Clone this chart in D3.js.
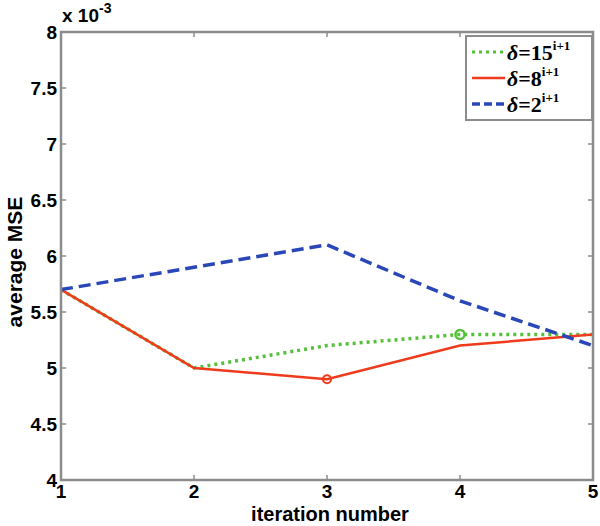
<!DOCTYPE html>
<html>
<head>
<meta charset="utf-8">
<script src="https://cdn.jsdelivr.net/npm/d3@7"></script>
<style>
  body { margin: 0; background: #fff; }
  text { font-family: "Liberation Sans", Arial, sans-serif; font-weight: bold; }
</style>
</head>
<body>
<div id="chart"></div>
<script>
const iterations = [1, 2, 3, 4, 5]
const mse15 = [5.7, 5.0, 5.2, 5.3, 5.3]
const mse8 = [5.7, 5.0, 4.9, 5.2, 5.3]
const mse2 = [5.7, 5.9, 6.1, 5.6, 5.2]
const yTicks = [4, 4.5, 5, 5.5, 6, 6.5, 7, 7.5, 8]
const legendNames = ["15", "8", "2"]

const width = 600, height = 526
const margin = { left: 61, right: 7, top: 32, bottom: 46 }

const svg = d3.select("#chart").append("svg")
    .attr("width", width)
    .attr("height", height)

const x = d3.scaleLinear().domain([1, 5]).range([margin.left, width - margin.right])
const y = d3.scaleLinear().domain([4, 8]).range([height - margin.bottom, margin.top])

const axisColor = "#8c8c8c"

// ticks on all four sides, pointing inward
const ax = svg.append("g")
ax.selectAll(".xt").data(iterations).enter().append("line")
    .attr("x1", d => x(d)).attr("x2", d => x(d))
    .attr("y1", y(4)).attr("y2", y(4) - 5)
    .attr("stroke", axisColor).attr("stroke-width", 1.5)
ax.selectAll(".xt2").data(iterations).enter().append("line")
    .attr("x1", d => x(d)).attr("x2", d => x(d))
    .attr("y1", y(8)).attr("y2", y(8) + 5)
    .attr("stroke", axisColor).attr("stroke-width", 1.5)
ax.selectAll(".yt").data(yTicks).enter().append("line")
    .attr("x1", x(1)).attr("x2", x(1) + 5)
    .attr("y1", d => y(d)).attr("y2", d => y(d))
    .attr("stroke", axisColor).attr("stroke-width", 1.5)
ax.selectAll(".yt2").data(yTicks).enter().append("line")
    .attr("x1", x(5)).attr("x2", x(5) - 5)
    .attr("y1", d => y(d)).attr("y2", d => y(d))
    .attr("stroke", axisColor).attr("stroke-width", 1.5)

// tick labels
svg.selectAll(".xl").data(iterations).enter().append("text")
    .attr("x", d => x(d)).attr("y", y(4) + 18)
    .attr("text-anchor", "middle")
    .attr("font-size", 19)
    .text(d => d)
svg.selectAll(".yl").data(yTicks).enter().append("text")
    .attr("x", x(1) - 4).attr("y", d => y(d) + 7)
    .attr("text-anchor", "end")
    .attr("font-size", 19)
    .text(d => d)

svg.append("text")
    .attr("x", 62).attr("y", 22)
    .attr("font-size", 19)
    .text("x 10")
    .append("tspan").attr("dy", -9).attr("font-size", 14).text("-3")

svg.append("text")
    .attr("x", 330).attr("y", 521)
    .attr("text-anchor", "middle")
    .attr("font-size", 20)
    .text("iteration number")

svg.append("text")
    .attr("transform", "translate(22,262) rotate(-90)")
    .attr("text-anchor", "middle")
    .attr("font-size", 21)
    .text("average MSE")

// lines
const line = d3.line().x((d, i) => x(iterations[i])).y(d => y(d))

svg.append("path").datum(mse15)
    .attr("d", line).attr("fill", "none")
    .attr("stroke", "#55c03a").attr("stroke-width", 3.5)
    .attr("stroke-dasharray", "3,4")

svg.append("path").datum(mse8)
    .attr("d", line).attr("fill", "none")
    .attr("stroke", "#f03a1c").attr("stroke-width", 2.5)

svg.append("path").datum(mse2)
    .attr("d", line).attr("fill", "none")
    .attr("stroke", "#2a47b8").attr("stroke-width", 3.5)
    .attr("stroke-dasharray", "12,6")

// markers
svg.append("circle")
    .attr("cx", x(3)).attr("cy", y(mse8[2])).attr("r", 4)
    .attr("fill", "none").attr("stroke", "#f03a1c").attr("stroke-width", 2)
svg.append("circle")
    .attr("cx", x(4)).attr("cy", y(mse15[3])).attr("r", 4.5)
    .attr("fill", "none").attr("stroke", "#55c03a").attr("stroke-width", 2.5)

// frame
svg.append("rect")
    .attr("x", x(1)).attr("y", y(8))
    .attr("width", x(5) - x(1)).attr("height", y(4) - y(8))
    .attr("fill", "none").attr("stroke", axisColor).attr("stroke-width", 2.5)

// legend
const lg = svg.append("g").attr("transform", "translate(466,36)")
lg.append("rect")
    .attr("width", 126).attr("height", 84)
    .attr("fill", "#fff").attr("stroke", axisColor).attr("stroke-width", 2)
const legendColors = ["#55c03a", "#f03a1c", "#2a47b8"]
const legendDash = ["3,4", null, "8,4"]
const legendW = [3, 2.5, 3.5]
legendNames.forEach(function (d, i) {
    const ly = 16 + i * 26
    lg.append("line")
        .attr("x1", 6).attr("x2", 39)
        .attr("y1", ly).attr("y2", ly)
        .attr("stroke", legendColors[i]).attr("stroke-width", legendW[i])
        .attr("stroke-dasharray", legendDash[i])
    const t = lg.append("text")
        .attr("x", 41).attr("y", ly + 8)
        .style("font-size", "22px")
        .style("font-family", "'Liberation Serif', 'Times New Roman', serif")
    t.append("tspan").style("font-style", "italic").text("δ")
    t.append("tspan").text("=" + d)
    t.append("tspan").attr("dy", -10).style("font-size", "13px").text("i+1")
})
</script>
</body>
</html>
